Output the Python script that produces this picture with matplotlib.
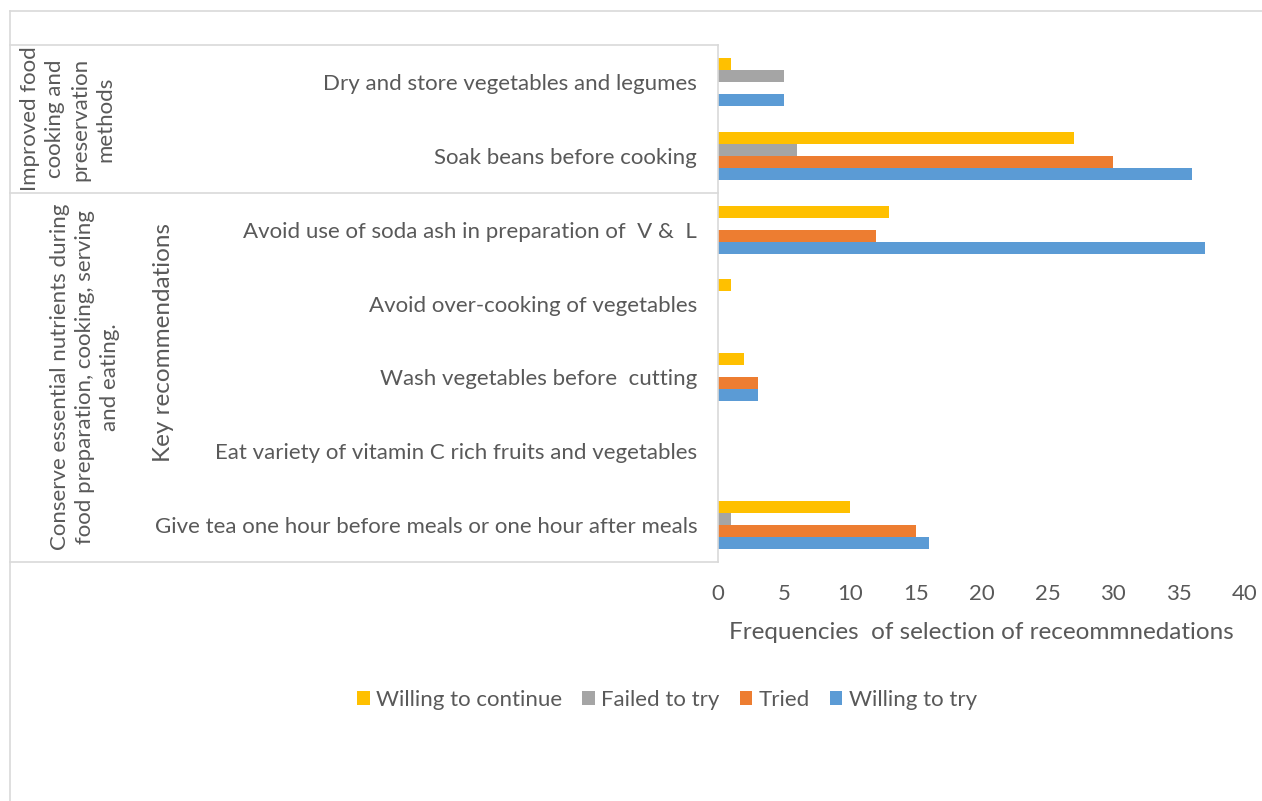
import matplotlib.pyplot as plt
import numpy as np
from matplotlib.lines import Line2D

#--------------------------------------------
# Recommendation frequencies per response type
#--------------------------------------------

recommendations = ['Dry and store vegetables and legumes',
                   'Soak beans before cooking',
                   'Avoid use of soda ash in preparation of  V &  L',
                   'Avoid over-cooking of vegetables',
                   'Wash vegetables before  cutting',
                   'Eat variety of vitamin C rich fruits and vegetables',
                   'Give tea one hour before meals or one hour after meals']

willing_to_continue = [1, 27, 13, 1, 2, 0, 10]
failed_to_try = [5, 6, 0, 0, 0, 0, 1]
tried = [0, 30, 12, 0, 3, 0, 15]
willing_to_try = [5, 36, 37, 0, 3, 0, 16]

series_names = ['Willing to continue', 'Failed to try', 'Tried', 'Willing to try']
series_colors = ['#FFC000', '#A5A5A5', '#ED7D31', '#5B9BD5']

group1_label = 'Improved food\ncooking and\npreservation\nmethods'
group2_label = 'Conserve essential nutrients during\nfood preparation, cooking, serving\nand eating.'
axis_label = 'Key recommendations'
xlabel = 'Frequencies  of selection of receommnedations'

text_col = '#595959'
line_col = '#D9D9D9'
plt.rcParams['font.family'] = ['Lato', 'DejaVu Sans']

W, H = 1262, 801
fig = plt.figure(figsize=(W/100, H/100), dpi=100)

# axes box in pixel coords: x 718..1245, y 45..562
x0, x1, y0, y1 = 718, 1245, 45, 562
ax = fig.add_axes([x0/W, 1 - y1/H, (x1 - x0)/W, (y1 - y0)/H])

values = [willing_to_continue, failed_to_try, tried, willing_to_try]
bar_h = 0.1625
pos = np.arange(len(recommendations))
for k, (vals, name, col) in enumerate(zip(values, series_names, series_colors)):
    ax.barh(pos + (k - 1.5) * bar_h, vals, height=bar_h, color=col, label=name)

ax.set_ylim(len(recommendations) - 0.5, -0.5)
ax.set_xlim(0, 40)
ax.set_xticks(range(0, 41, 5))
ax.set_yticks(pos)
ax.set_yticklabels(recommendations)
ax.tick_params(axis='y', length=0, pad=15, labelsize=16, labelcolor=text_col)
ax.tick_params(axis='x', length=0, pad=16, labelsize=16, labelcolor=text_col)
for s in ['top', 'right', 'bottom']:
    ax.spines[s].set_visible(False)
ax.spines['left'].set_color(line_col)
ax.spines['left'].set_linewidth(1.2)
ax.set_xlabel(xlabel, fontsize=17.5, color=text_col, labelpad=13)

# group box lines and outer chart border
def fig_line(xs, ys):
    fig.add_artist(Line2D([x / W for x in xs], [1 - y / H for y in ys],
                          color=line_col, lw=1.2))

fig_line([10, x0], [y0, y0])
fig_line([10, x0], [193, 193])
fig_line([10, x0], [y1, y1])
fig_line([10, W], [11, 11])
fig_line([10, 10], [11, H])

fig.text(68/W, 1 - 119/H, group1_label, rotation=90, ha='center', va='center',
         fontsize=16, color=text_col, linespacing=1.32, multialignment='center')
fig.text(85/W, 1 - 377/H, group2_label, rotation=90, ha='center', va='center',
         fontsize=16, color=text_col, linespacing=1.32, multialignment='center')
fig.text(163/W, 1 - 343/H, axis_label, rotation=90, ha='center', va='center',
         fontsize=17.5, color=text_col)

fig.legend(loc='center', bbox_to_anchor=(667/W, 1 - 700/H), ncol=4, frameon=False,
           fontsize=16, labelcolor=text_col, handlelength=0.55, handleheight=0.55,
           handletextpad=0.3, columnspacing=0.9)

fig.savefig('out.png', dpi=100)
